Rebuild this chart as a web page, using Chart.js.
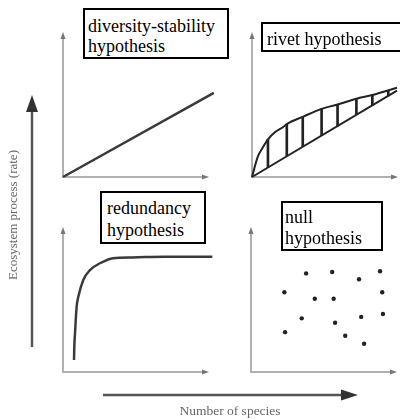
<!DOCTYPE html>
<html>
<head>
<meta charset="utf-8">
<script src="https://cdn.jsdelivr.net/npm/chart.js@4.4.1/dist/chart.umd.min.js"></script>
<style>
  html, body { margin: 0; padding: 0; background: #fff; }
  body { width: 400px; height: 420px; position: relative; overflow: hidden; font-family: "Liberation Serif", serif; }
  canvas.panel, #bg { position: absolute; }
  .tag { position: absolute; box-sizing: border-box; border: 2px solid #000; background: #fff; color: #000;
         font-size: 18px; line-height: 20px; white-space: nowrap; overflow: hidden; }
  .axis-label { position: absolute; color: #666; white-space: nowrap; text-align: center; }
</style>
</head>
<body>
<canvas id="bg" width="400" height="420"></canvas>
<canvas id="p1" class="panel"></canvas>
<canvas id="p2" class="panel"></canvas>
<canvas id="p3" class="panel"></canvas>
<canvas id="p4" class="panel"></canvas>

<div class="tag" style="left:83px;top:8px;width:146px;height:51px;padding:6px 0 0 3px">diversity-stability<br>hypothesis</div>
<div class="tag" style="left:261px;top:22px;width:150px;height:30px;padding:5px 0 0 4px">rivet hypothesis</div>
<div class="tag" style="left:100px;top:191px;width:106px;height:53px;padding:4px 0 0 5px;line-height:22px">redundancy<br>hypothesis</div>
<div class="tag" style="left:281px;top:201px;width:102px;height:50px;padding:4px 0 0 2px;line-height:21px">null<br>hypothesis</div>

<div class="axis-label" style="left:-57px;top:207px;width:140px;font-size:13px;transform:rotate(-90deg)">Ecosystem process (rate)</div>
<div class="axis-label" style="left:160px;top:403px;width:140px;font-size:13.5px">Number of species</div>

<script>
// values, 0..10 on both axes of every panel
const diversityX = [0, 10.4];
const diversityY = [0, 5.8];

const rivetUpperX = [0, 0.4, 0.75, 1.1, 1.6, 2.15, 2.4, 3.5, 4.8, 5.9, 7.2, 8.3, 10.0];
const rivetUpperY = [0, 1.4, 2.05, 2.6, 3.1, 3.45, 3.65, 4.15, 4.7, 5.0, 5.4, 5.65, 6.15];
const rivetLowerX = [0, 10.0];
const rivetLowerY = [0, 5.95];
const rivetHatchX = [1.1, 2.4, 3.5, 4.8, 5.9, 7.2, 8.3, 9.4];
const rivetHatchLow = [0.65, 1.45, 2.1, 2.85, 3.5, 4.3, 4.95, 5.6];
const rivetHatchHigh = [2.6, 3.65, 4.15, 4.7, 5.0, 5.4, 5.65, 5.95];

const redundancyX = [0.76, 0.78, 0.83, 0.94, 1.06, 1.4, 1.86, 2.55, 3.45, 4.8, 7.0, 10.3];
const redundancyY = [0.83, 1.75, 2.7, 4.5, 5.2, 6.35, 7.03, 7.5, 7.85, 7.9, 7.95, 7.95];

const nullX = [3.8, 5.6, 7.45, 8.9, 2.3, 4.4, 5.7, 9.05, 3.5, 5.8, 7.6, 9.1, 2.35, 6.5, 7.8];
const nullY = [6.8, 6.9, 6.4, 6.95, 5.5, 5.05, 5.05, 5.5, 3.7, 3.4, 3.8, 4.0, 2.75, 2.5, 1.95];

const PAD = 8;
const SPAN = 145;

const toPoints = (xs, ys) => xs.map((x, i) => ({ x, y: ys[i] }));

function arrowHead(ctx, x, y, dir, len, half) {
  ctx.beginPath();
  if (dir === 'up') {
    ctx.moveTo(x, y); ctx.lineTo(x - half, y + len); ctx.lineTo(x + half, y + len);
  } else {
    ctx.moveTo(x, y); ctx.lineTo(x - len, y - half); ctx.lineTo(x - len, y + half);
  }
  ctx.closePath();
  ctx.fill();
}

// the little L-shaped axes of each panel
const panelAxes = {
  id: 'panelAxes',
  beforeDatasetsDraw(chart) {
    const { ctx, chartArea } = chart;
    const { left, right, top, bottom } = chartArea;
    ctx.save();
    ctx.strokeStyle = '#b0b0b0';
    ctx.fillStyle = '#777';
    ctx.lineWidth = 2;
    ctx.beginPath();
    ctx.moveTo(left, top + 4); ctx.lineTo(left, bottom);
    ctx.lineTo(right - 4, bottom);
    ctx.stroke();
    arrowHead(ctx, left, top, 'up', 7, 2.5);
    arrowHead(ctx, right + 1, bottom, 'right', 7, 2.5);
    ctx.restore();
  }
};

function makePanel(id, ox, oy, datasets) {
  const c = document.getElementById(id);
  c.width = SPAN + 2 * PAD;
  c.height = SPAN + 2 * PAD;
  c.style.left = (ox - PAD) + 'px';
  c.style.top = (oy - SPAN - PAD) + 'px';
  return new Chart(c, {
    type: 'line',
    data: { datasets },
    options: {
      responsive: false,
      animation: false,
      events: [],
      layout: { padding: PAD },
      plugins: { legend: { display: false }, tooltip: { enabled: false } },
      scales: {
        x: { type: 'linear', min: 0, max: 10, display: false, offset: false },
        y: { type: 'linear', min: 0, max: 10, display: false }
      }
    },
    plugins: [panelAxes]
  });
}

const curve = (xs, ys, width, color) => ({
  data: toPoints(xs, ys),
  borderColor: color,
  borderWidth: width,
  pointRadius: 0,
  cubicInterpolationMode: 'monotone',
  clip: false
});

makePanel('p1', 63, 177, [curve(diversityX, diversityY, 2.5, '#3a3a3a')]);

makePanel('p2', 252, 177, [
  curve(rivetUpperX, rivetUpperY, 2, '#222'),
  curve(rivetLowerX, rivetLowerY, 2, '#222'),
  {
    type: 'bar',
    data: rivetHatchX.map((x, i) => ({ x, y: [rivetHatchLow[i], rivetHatchHigh[i]] })),
    backgroundColor: '#222',
    borderWidth: 0,
    barThickness: 2
  }
]);

makePanel('p3', 63, 372, [curve(redundancyX, redundancyY, 2.5, '#3a3a3a')]);

makePanel('p4', 251, 372, [{
  data: toPoints(nullX, nullY),
  showLine: false,
  pointRadius: 2.2,
  pointBackgroundColor: '#222',
  pointBorderWidth: 0
}]);

// the two big arrows on the outside of the grid
const bg = document.getElementById('bg').getContext('2d');
bg.strokeStyle = '#555';
bg.fillStyle = '#333';
bg.lineWidth = 2.5;
bg.beginPath();
bg.moveTo(32, 347); bg.lineTo(32, 108);
bg.moveTo(103, 395); bg.lineTo(345, 395);
bg.stroke();
arrowHead(bg, 32, 95, 'up', 17, 6);
arrowHead(bg, 358, 395, 'right', 17, 5.5);
</script>
</body>
</html>
